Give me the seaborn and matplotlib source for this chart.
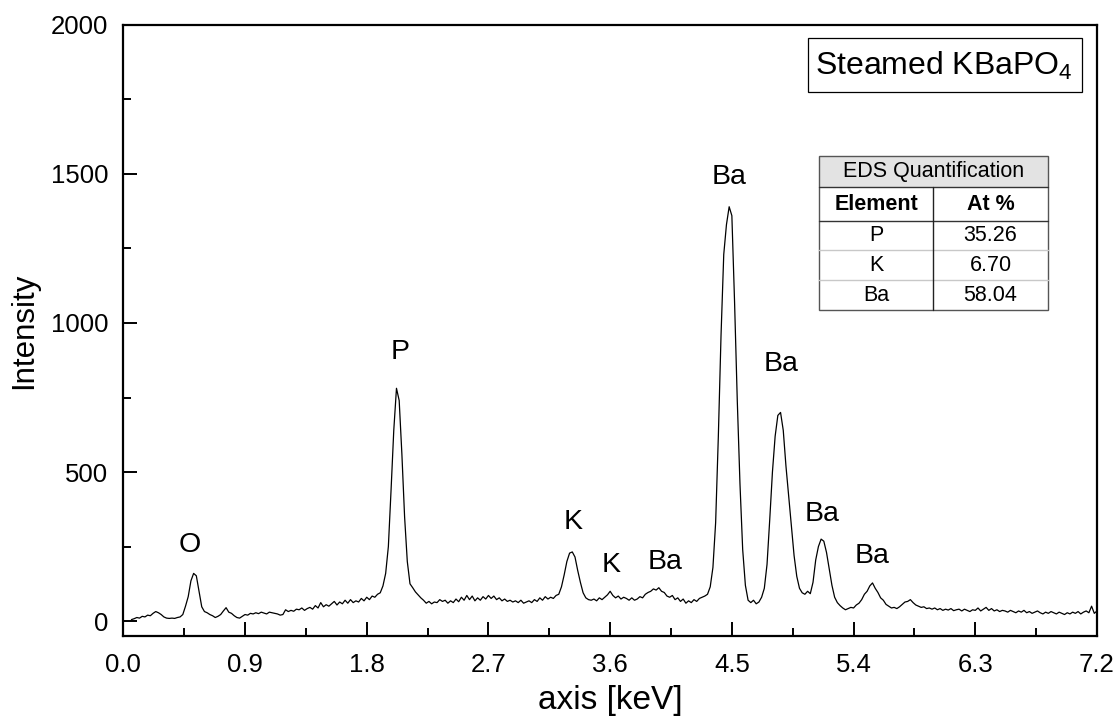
import numpy as np
import pandas as pd
import matplotlib
matplotlib.use("Agg")
import matplotlib.pyplot as plt
import seaborn as sns
from matplotlib.patches import Rectangle
from matplotlib.lines import Line2D
from matplotlib.ticker import MultipleLocator

# ---------------- data ----------------
E_START = 0.06   # keV, first channel shown
E_STEP = 0.02    # keV per channel
counts = [
    5, 8, 12, 10, 16, 14, 20, 18, 26, 32,            # 0.06
    28, 22, 14, 10, 9, 10, 9, 12, 14, 22,            # 0.26
    50, 82, 135, 160, 152, 100, 48, 32, 28, 22,      # 0.46
    18, 12, 16, 22, 34, 45, 30, 26, 18, 12,          # 0.66
    10, 16, 22, 20, 26, 24, 28, 25, 30, 27,          # 0.86
    24, 30, 28, 26, 24, 20, 22, 38, 32, 36,          # 1.06
    33, 40, 38, 44, 36, 42, 46, 40, 52, 44,          # 1.26
    62, 48, 55, 50, 58, 66, 54, 64, 58, 70,          # 1.46
    60, 72, 62, 68, 64, 76, 68, 80, 72, 84,          # 1.66
    80, 90, 95, 118, 160, 250, 440, 640, 781, 740,   # 1.86
    560, 350, 200, 125, 112, 98, 88, 78, 70, 60,     # 2.06
    66, 58, 64, 62, 72, 66, 70, 60, 68, 62,          # 2.26
    74, 65, 80, 70, 86, 72, 84, 68, 78, 70,          # 2.46
    82, 74, 86, 76, 84, 72, 78, 68, 74, 66,          # 2.66
    70, 64, 68, 62, 70, 60, 64, 68, 62, 72,          # 2.86
    66, 78, 70, 82, 74, 80, 76, 86, 90, 115,         # 3.06
    155, 200, 228, 232, 215, 170, 130, 95, 78, 72,   # 3.26
    70, 74, 68, 78, 72, 80, 88, 100, 86, 78,         # 3.46
    84, 74, 80, 76, 70, 78, 70, 74, 82, 78,          # 3.66
    90, 96, 100, 108, 104, 112, 100, 96, 84, 80,     # 3.86
    86, 72, 78, 66, 74, 60, 68, 62, 72, 66,          # 4.06
    76, 80, 84, 90, 115, 180, 330, 620, 960, 1230,   # 4.26
    1330, 1390, 1360, 1070, 740, 460, 240, 120, 70, 62,  # 4.46
    70, 58, 64, 80, 110, 190, 340, 500, 620, 690,    # 4.66
    700, 640, 520, 420, 320, 220, 150, 110, 95, 90,  # 4.86
    100, 92, 130, 205, 250, 275, 268, 230, 175, 120, # 5.06
    80, 62, 52, 44, 38, 42, 46, 44, 54, 60,          # 5.26
    72, 90, 100, 118, 128, 110, 96, 78, 70, 56,      # 5.46
    50, 44, 46, 42, 48, 56, 64, 66, 72, 62,          # 5.66
    54, 50, 46, 48, 42, 44, 40, 44, 38, 42,          # 5.86
    36, 40, 37, 42, 35, 38, 40, 34, 40, 36,          # 6.06
    32, 38, 36, 44, 34, 40, 46, 36, 42, 34,          # 6.26
    38, 32, 36, 34, 30, 36, 32, 28, 34, 30,          # 6.46
    36, 28, 32, 26, 30, 34, 28, 24, 30, 26,          # 6.66
    32, 28, 24, 30, 26, 22, 28, 24, 30, 26,          # 6.86
    32, 24, 30, 34, 28, 50, 26, 34,                  # 7.06
]

peak_labels = ["O", "P", "K", "K", "Ba", "Ba", "Ba", "Ba", "Ba"]
peak_label_x = [0.493, 2.047, 3.326, 3.607, 4.006, 4.48, 4.865, 5.167, 5.537]
peak_label_y = [255, 903, 332, 188, 198, 1490, 862, 359, 218]

table_title = "EDS Quantification"
table_header = ["Element", "At %"]
table_elements = ["P", "K", "Ba"]
table_at_pct = ["35.26", "6.70", "58.04"]

sample_name = "Steamed KBaPO$_4$"
x_ticks = [0.0, 0.9, 1.8, 2.7, 3.6, 4.5, 5.4, 6.3, 7.2]
y_ticks = [0, 500, 1000, 1500, 2000]
x_label = "axis [keV]"
y_label = "Intensity"

# ---------------- style ----------------
sns.set_theme(style="ticks")
plt.rcParams['font.family'] = ['Liberation Sans', 'DejaVu Sans']
plt.rcParams['mathtext.default'] = 'regular'
for k in ['text.color', 'axes.labelcolor', 'xtick.color', 'ytick.color',
          'axes.edgecolor']:
    plt.rcParams[k] = 'black'

W, H = 1120, 721
fig = plt.figure(figsize=(W / 100, H / 100), dpi=100)
fig.patch.set_facecolor("white")

L, R, T, B = 123.3, 1097.0, 24.9, 636.0
ax = fig.add_axes([L / W, 1 - B / H, (R - L) / W, (B - T) / H])
ax.set_facecolor("white")

energy = E_START + E_STEP * np.arange(len(counts))
df = pd.DataFrame({"energy": energy, "counts": counts})
sns.lineplot(data=df, x="energy", y="counts", color="black",
             linewidth=0.9, ax=ax, legend=False)

ax.set_xlim(0, 7.2)
ax.set_ylim(-50, 2000)
ax.set_xticks(x_ticks)
ax.set_xticklabels([f"{v:.1f}" for v in x_ticks])
ax.set_yticks(y_ticks)
ax.set_yticklabels([str(v) for v in y_ticks])
ax.xaxis.set_minor_locator(MultipleLocator(0.45))
ax.yaxis.set_minor_locator(MultipleLocator(250))

for s in ax.spines.values():
    s.set_visible(True)
    s.set_color("black")
    s.set_linewidth(1.6)

ax.tick_params(which="both", direction="in", color="black", width=1.4,
               top=False, right=False, labelcolor="black")
ax.tick_params(which="major", length=10, labelsize=18.5, pad=12)
ax.tick_params(which="minor", length=6)
ax.tick_params(axis="y", which="major", pad=11)

ax.set_xlabel(x_label, fontsize=24, labelpad=6, color="black")
ax.set_ylabel(y_label, fontsize=22.5, labelpad=8, color="black")

for t, xv, yv in zip(peak_labels, peak_label_x, peak_label_y):
    ax.text(xv, yv, t, fontsize=20.5, ha="center", va="center", color="black")

# ---------------- sample name box ----------------
def fx(px):
    return px / W

def fy(py):
    return 1 - py / H

fig.add_artist(Rectangle((fx(808), fy(92)), (1082 - 808) / W, (92 - 38) / H,
                         transform=fig.transFigure, facecolor="white",
                         edgecolor="black", linewidth=0.9))
fig.text(fx(944), fy(66), sample_name, fontsize=23, ha="center", va="center",
         color="black")

# ---------------- table ----------------
tx0, tx1, tcol = 819, 1047.7, 933.3
rows_y = [155.7, 187.3, 220.7, 250.0, 280.0, 310.0]

fig.add_artist(Rectangle((fx(tx0), fy(rows_y[-1])), (tx1 - tx0) / W,
                         (rows_y[-1] - rows_y[0]) / H, transform=fig.transFigure,
                         facecolor="white", edgecolor="none"))
fig.add_artist(Rectangle((fx(tx0), fy(rows_y[1])), (tx1 - tx0) / W,
                         (rows_y[1] - rows_y[0]) / H, transform=fig.transFigure,
                         facecolor="#e3e3e3", edgecolor="none"))

def hline(py, color, lw):
    fig.add_artist(Line2D([fx(tx0), fx(tx1)], [fy(py), fy(py)],
                          transform=fig.transFigure, color=color, linewidth=lw))

hline(rows_y[1], "#333333", 1.0)
hline(rows_y[2], "#333333", 1.0)
hline(rows_y[3], "#c8c8c8", 1.0)
hline(rows_y[4], "#c8c8c8", 1.0)
fig.add_artist(Line2D([fx(tcol), fx(tcol)], [fy(rows_y[1]), fy(rows_y[-1])],
                      transform=fig.transFigure, color="#222222", linewidth=1.0))
fig.add_artist(Rectangle((fx(tx0), fy(rows_y[-1])), (tx1 - tx0) / W,
                         (rows_y[-1] - rows_y[0]) / H, transform=fig.transFigure,
                         facecolor="none", edgecolor="#555555", linewidth=1.0))

cx0 = (tx0 + tcol) / 2
cx1 = (tcol + tx1) / 2
tfs = 15.5
fig.text(fx((tx0 + tx1) / 2), fy((rows_y[0] + rows_y[1]) / 2), table_title,
         fontsize=tfs, ha="center", va="center", color="black")
fig.text(fx(cx0), fy((rows_y[1] + rows_y[2]) / 2), table_header[0],
         fontsize=tfs, fontweight="bold", ha="center", va="center", color="black")
fig.text(fx(cx1), fy((rows_y[1] + rows_y[2]) / 2), table_header[1],
         fontsize=tfs, fontweight="bold", ha="center", va="center", color="black")
for i, (el, pct) in enumerate(zip(table_elements, table_at_pct)):
    yc = (rows_y[2 + i] + rows_y[3 + i]) / 2
    fig.text(fx(cx0), fy(yc), el, fontsize=tfs, ha="center", va="center",
             color="black")
    fig.text(fx(cx1), fy(yc), pct, fontsize=tfs, ha="center", va="center",
             color="black")

fig.savefig("out.png", dpi=100, facecolor="white")
